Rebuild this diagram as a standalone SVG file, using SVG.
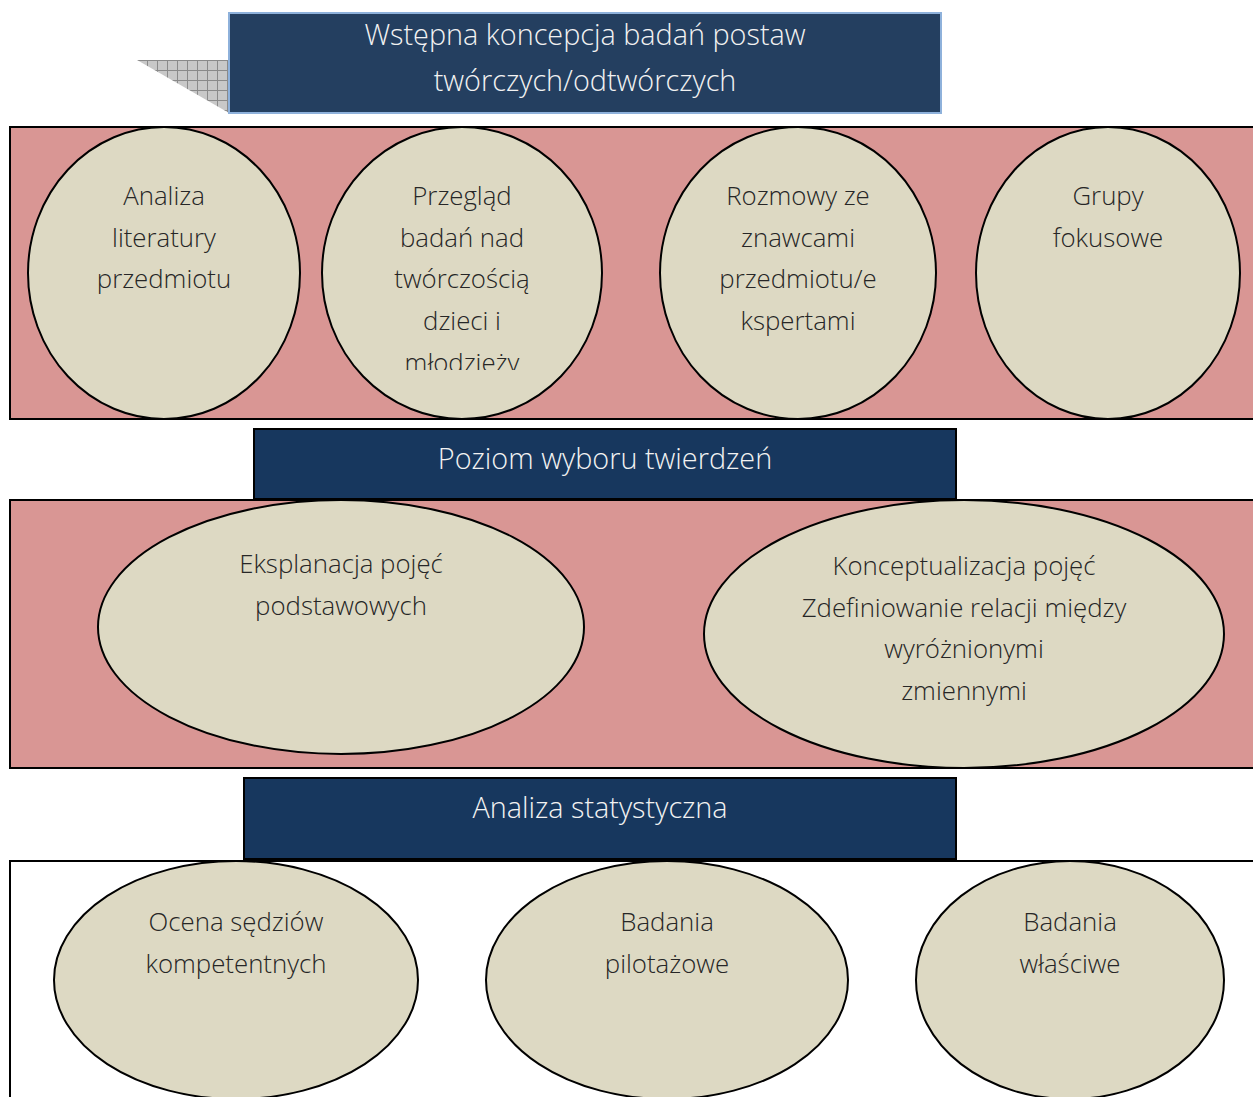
<svg xmlns="http://www.w3.org/2000/svg" width="1253" height="1097" viewBox="0 0 1253 1097">
<style>
.band{fill:#d99694;stroke:#000;stroke-width:2}
.node{fill:#ddd9c3;stroke:#000;stroke-width:2}
.hdr{fill:#17375e;stroke:#000;stroke-width:2}
.t{font-family:"Open Sans","Liberation Sans",sans-serif;font-weight:300;font-size:25.8px;fill:#262626;text-anchor:middle}
.h{font-family:"Open Sans","Liberation Sans",sans-serif;font-weight:300;font-size:28.8px;fill:#f2f2f2;text-anchor:middle}
</style>
<defs>
<pattern id="grid" width="10" height="10" patternUnits="userSpaceOnUse" x="137" y="60">
<rect width="10" height="10" fill="#c8c8c8"/>
<path d="M0 0.5H10M0.5 0V10" stroke="#8a8a8a" stroke-width="1"/>
</pattern>
<clipPath id="clip2"><rect x="320" y="130" width="290" height="240"/></clipPath>
</defs>
<rect width="1253" height="1097" fill="#fff"/>

<g id="title">
<polygon points="137,60 229,60 229,113" fill="url(#grid)"/>
<rect x="229" y="13" width="712" height="100" fill="#243f60" stroke="#8eb1db" stroke-width="2"/>
<text class="h" x="585" y="45">Wstępna koncepcja badań postaw</text>
<text class="h" x="585" y="91">twórczych/odtwórczych</text>
</g>

<g id="band1">
<rect class="band" x="10" y="127" width="1250" height="292"/>
</g>
<g id="n1">
<ellipse class="node" cx="164" cy="273" rx="136" ry="146"/>
<text class="t" x="164" y="205">Analiza</text>
<text class="t" x="164" y="247">literatury</text>
<text class="t" x="164" y="288">przedmiotu</text>
</g>
<g id="n2">
<ellipse class="node" cx="462" cy="273" rx="140" ry="146"/>
<g clip-path="url(#clip2)">
<text class="t" x="462" y="205">Przegląd</text>
<text class="t" x="462" y="247">badań nad</text>
<text class="t" x="462" y="288">twórczością</text>
<text class="t" x="462" y="330">dzieci i</text>
<text class="t" x="462" y="372">młodzieży</text>
</g>
</g>
<g id="n3">
<ellipse class="node" cx="798" cy="273" rx="138" ry="146"/>
<text class="t" x="798" y="205">Rozmowy ze</text>
<text class="t" x="798" y="247">znawcami</text>
<text class="t" x="798" y="288">przedmiotu/e</text>
<text class="t" x="798" y="330">kspertami</text>
</g>
<g id="n4">
<ellipse class="node" cx="1108" cy="273" rx="132" ry="146"/>
<text class="t" x="1108" y="205">Grupy</text>
<text class="t" x="1108" y="247">fokusowe</text>
</g>

<g id="h2">
<rect class="hdr" x="254" y="429" width="702" height="70"/>
<text class="h" x="605" y="469">Poziom wyboru twierdzeń</text>
</g>

<g id="band2">
<rect class="band" x="10" y="500" width="1250" height="268"/>
</g>
<g id="n5">
<ellipse class="node" cx="341" cy="627" rx="243" ry="127"/>
<text class="t" x="341" y="573">Eksplanacja pojęć</text>
<text class="t" x="341" y="615">podstawowych</text>
</g>
<g id="n6">
<ellipse class="node" cx="964" cy="634" rx="260" ry="134"/>
<text class="t" x="964" y="575">Konceptualizacja pojęć</text>
<text class="t" x="964" y="617">Zdefiniowanie relacji między</text>
<text class="t" x="964" y="658">wyróżnionymi</text>
<text class="t" x="964" y="700">zmiennymi</text>
</g>

<g id="h3">
<rect class="hdr" x="244" y="778" width="712" height="81"/>
<text class="h" x="600" y="818">Analiza statystyczna</text>
</g>

<g id="band3">
<rect x="10" y="861" width="1260" height="260" fill="#fff" stroke="#000" stroke-width="2"/>
</g>
<g id="n7">
<ellipse class="node" cx="236" cy="980" rx="182" ry="119"/>
<text class="t" x="236" y="931">Ocena sędziów</text>
<text class="t" x="236" y="973">kompetentnych</text>
</g>
<g id="n8">
<ellipse class="node" cx="667" cy="980" rx="181" ry="119"/>
<text class="t" x="667" y="931">Badania</text>
<text class="t" x="667" y="973">pilotażowe</text>
</g>
<g id="n9">
<ellipse class="node" cx="1070" cy="980" rx="154" ry="119"/>
<text class="t" x="1070" y="931">Badania</text>
<text class="t" x="1070" y="973">właściwe</text>
</g>

<g id="connectors"></g>
</svg>
